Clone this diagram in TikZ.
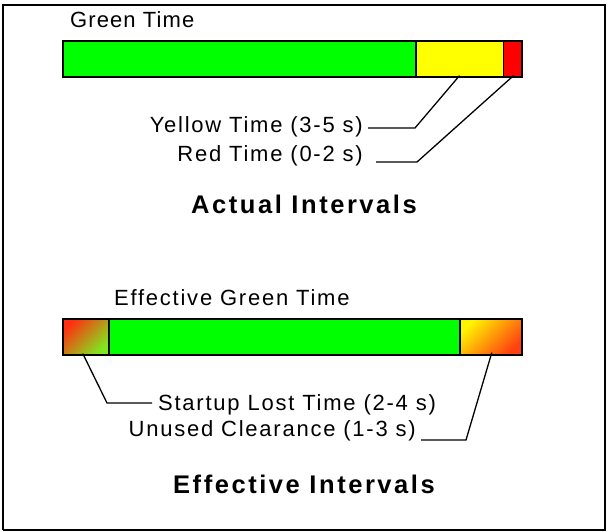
\documentclass[tikz,border=0pt]{standalone}
\usepackage{fontspec}
\setmainfont{Liberation Sans}
\definecolor{sigGreen}{HTML}{00FF00}
\definecolor{sigYellow}{HTML}{FFFF00}
\definecolor{sigRed}{HTML}{FF0000}
\definecolor{lossRed}{HTML}{FF3010}
\definecolor{lossMid}{HTML}{D8A020}
\definecolor{lossGreen}{HTML}{80E820}
\definecolor{clrYellow}{HTML}{FFF400}
\definecolor{clrMid}{HTML}{FFA800}
\definecolor{clrRed}{HTML}{FF4010}
\begin{document}
\begin{tikzpicture}[x=1pt,y=-1pt,
  seg/.style={draw=black, line width=1.6pt, minimum height=36pt, inner sep=0pt, anchor=north west},
  leader/.style={draw=black, line width=1.3pt},
  lbl/.style={inner sep=0pt, font=\fontsize{22}{25}\selectfont\addfontfeature{LetterSpace=8}},
  ttl/.style={inner sep=0pt, font=\fontsize{25.5}{28}\selectfont\bfseries\addfontfeature{LetterSpace=10}}]
\useasboundingbox (0,0) rectangle (608,532);
% outer frame with heavier right/bottom edge
\draw[line width=1.5pt] (3,5) rectangle (604.5,529.5);
\draw[line width=2.5pt] (604.8,4.5) |- (2.5,530.2);

% actual intervals bar
\node[seg, fill=sigGreen, minimum width=353pt] (grn) at (62,40) {};
\node[seg, fill=sigYellow, minimum width=87.5pt] (yel) at (415,40) {};
\node[seg, fill=sigRed, minimum width=18.5pt] (red) at (502.5,40) {};

% effective intervals bar
\node[seg, top color=lossRed, middle color=lossMid, bottom color=lossGreen, shading angle=45, minimum width=46pt] (sb) at (62,318) {};
\node[seg, fill=sigGreen, minimum width=351pt] (egrn) at (108,318) {};
\node[seg, top color=clrYellow, middle color=clrMid, bottom color=clrRed, shading angle=45, minimum width=62pt] (ub) at (459,318) {};

% labels
\node[lbl, anchor=base west, font=\fontsize{22}{25}\selectfont\addfontfeature{LetterSpace=5}] (gt) at (70,28) {Green Time};
\node[lbl, anchor=base east] (yt) at (363,133) {Yellow Time (3-5 s)};
\node[lbl, anchor=base east] (rt) at (363,161) {Red Time (0-2 s)};
\node[ttl, anchor=base] (at) at (304,213) {Actual Intervals};
\node[lbl, anchor=base west] (egt) at (114,305) {Effective Green Time};
\node[lbl, anchor=base west] (st) at (158,410) {Startup Lost Time (2-4 s)};
\node[lbl, anchor=base east] (ut) at (416,436) {Unused Clearance (1-3 s)};
\node[ttl, anchor=base] (et) at (304,493) {Effective Intervals};

% leader lines
\coordinate (yk) at (415,128);
\coordinate (rk) at (417,162);
\coordinate (sk) at (107,403);
\coordinate (uk) at (466,440);
\draw[leader] ([yshift=2pt]yel.south) -- (yk) -- ([xshift=5pt]yk -| yt.east);
\draw[leader] ([xshift=1pt,yshift=2pt]red.south) -- (rk) -- ([xshift=13pt]rk -| rt.east);
\draw[leader] ([xshift=-3pt,yshift=2pt]sb.south) -- (sk) -- ([xshift=-6pt]sk -| st.west);
\draw[leader] ([xshift=1pt,yshift=3pt]ub.south) -- (uk) -- ([xshift=5pt]uk -| ut.east);
\end{tikzpicture}
\end{document}
